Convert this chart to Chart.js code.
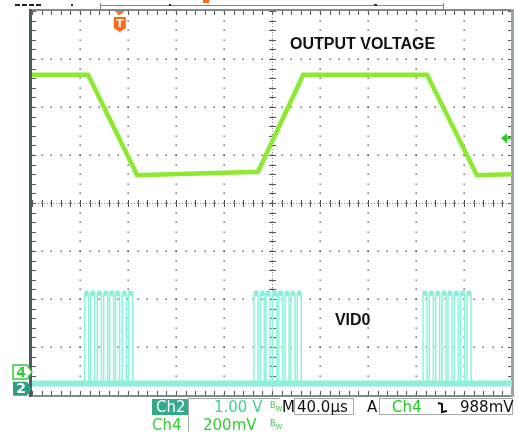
<!DOCTYPE html>
<html>
<head>
<meta charset="utf-8">
<script src="https://cdn.jsdelivr.net/npm/chart.js@4.4.1/dist/chart.umd.min.js"></script>
<style>
  body { margin: 0; background: #fff; }
  #wrap { position: relative; width: 518px; height: 436px; overflow: hidden; background: #fff; }
  #scope { position: absolute; left: 0; top: 0; }
  .t { position: absolute; font-family: "DejaVu Sans", sans-serif; font-size: 15px; line-height: 16px; white-space: pre; color: #111; }
  .box { position: absolute; border: 1px solid #a8a8a8; box-sizing: border-box; }
  .bw { position: absolute; font-family: "DejaVu Sans", sans-serif; font-size: 8px; line-height: 8px; color: #33cc44; }
  .bw sub { font-size: 7px; vertical-align: -3px; }
  .ln { position: absolute; background: #a8a8a8; }
</style>
</head>
<body>
<div id="wrap">
  <canvas id="scope" width="518" height="436"></canvas>

  <div class="t" style="left:152px;top:399px;width:36px;height:16px;background:#35a98b;color:#fff;padding-left:4px;box-sizing:border-box;">Ch2</div>
  <div class="ln" style="left:188px;top:398px;width:1px;height:34px;"></div>
  <div class="ln" style="left:188px;top:398px;width:92px;height:1px;"></div>
  <div class="t" style="left:214px;top:399px;color:#3fd391;">1.00 V</div>
  <div class="bw" style="left:270px;top:402px;">B<sub>W</sub></div>
  <div class="t" style="left:282px;top:399px;">M</div>
  <div class="box" style="left:294px;top:398px;width:60px;height:17px;"></div>
  <div class="t" style="left:297px;top:399px;">40.0µs</div>
  <div class="t" style="left:367px;top:399px;">A</div>
  <div class="box" style="left:379px;top:398px;width:134px;height:17px;"></div>
  <div class="t" style="left:392px;top:399px;color:#22cc22;">Ch4</div>
  <svg style="position:absolute;left:437px;top:401px;" width="12" height="13"><polyline points="1,2 5,3 5,11 10,10" fill="none" stroke="#111" stroke-width="2"/></svg>
  <div class="t" style="left:460px;top:399px;">988mV</div>

  <div class="t" style="left:152px;top:417px;color:#33cc33;">Ch4</div>
  <div class="t" style="left:203px;top:417px;color:#33cc33;">200mV</div>
  <div class="bw" style="left:270px;top:420px;">B<sub>W</sub></div>
</div>
<script>
// horizontal axis: 10 divisions, vertical axis: 8 divisions
const xDivs = [0, 10];
const yDivs = [0, 8];

// output voltage trace (Ch4), corners in divisions
const outTimes  = [0, 1.17, 2.19, 4.71, 5.65, 8.23, 9.27, 10];
const outLevels = [6.67, 6.67, 4.58, 4.65, 6.67, 6.67, 4.58, 4.6];

// VID0 trace (Ch2): pulse centres for the three bursts
const burst1 = [1.139, 1.264, 1.402, 1.535, 1.660, 1.785, 1.923, 2.056];
const burst2 = [4.667, 4.798, 4.917, 5.056, 5.181, 5.313, 5.438, 5.569];
const burst3 = [8.188, 8.319, 8.452, 8.583, 8.708, 8.840, 8.973, 9.104];
const vidLow = 0.24;
const vidHigh = 2.12;
const pulseHalf = 0.042;

// markers
const trigPos = 1.83;
const trigLevel = 5.35;
const ch4Ref = 0.48;
const ch2Ref = 0.13;

const outData = outTimes.map((t, i) => ({x: t, y: outLevels[i]}));

const pulses = burst1.concat(burst2, burst3);
const vidData = [{x: 0, y: vidLow}];
const vidTops = [];
pulses.forEach(c => {
    vidData.push({x: c - pulseHalf, y: vidLow}, {x: c - pulseHalf, y: vidHigh},
                 {x: c + pulseHalf, y: vidHigh}, {x: c + pulseHalf, y: vidLow});
    vidTops.push({x: c - pulseHalf, y: vidHigh}, {x: c + pulseHalf, y: vidHigh}, {x: c, y: null});
});
vidData.push({x: 10, y: vidLow});
const vidBase = [{x: 0, y: vidLow}, {x: 10, y: vidLow}];

const graticule = {
    id: 'graticule',
    beforeDatasetsDraw(chart) {
        const {ctx, chartArea: a, scales: {x, y}} = chart;
        ctx.save();
        // dotted major lines
        ctx.fillStyle = '#3a3a3a';
        for (let i = 1; i < 10; i++) {
            const px = Math.round(x.getPixelForValue(i));
            for (let j = 0; j <= 40; j++) {
                ctx.fillRect(px - 0.5, Math.round(y.getPixelForValue(j / 5)) - 0.5, 1.3, 1.3);
            }
        }
        for (let i = 1; i < 8; i++) {
            const py = Math.round(y.getPixelForValue(i));
            for (let j = 0; j <= 50; j++) {
                ctx.fillRect(Math.round(x.getPixelForValue(j / 5)) - 0.5, py - 0.5, 1.3, 1.3);
            }
        }
        // centre cross
        const cx = Math.round(x.getPixelForValue(5));
        const cy = Math.round(y.getPixelForValue(4));
        ctx.strokeStyle = '#8a8a8a';
        ctx.lineWidth = 1;
        ctx.setLineDash([1, 2]);
        ctx.beginPath();
        ctx.moveTo(a.left, cy + 0.5); ctx.lineTo(a.right, cy + 0.5);
        ctx.moveTo(cx + 0.5, a.top); ctx.lineTo(cx + 0.5, a.bottom);
        ctx.stroke();
        ctx.setLineDash([]);
        ctx.strokeStyle = '#555';
        ctx.beginPath();
        for (let j = 0; j <= 50; j++) {
            const px = Math.round(x.getPixelForValue(j / 5)) + 0.5;
            ctx.moveTo(px, cy - 3); ctx.lineTo(px, cy + 4);
            ctx.moveTo(px, a.top); ctx.lineTo(px, a.top + 4);
            ctx.moveTo(px, a.bottom); ctx.lineTo(px, a.bottom - 4);
        }
        for (let j = 0; j <= 40; j++) {
            const py = Math.round(y.getPixelForValue(j / 5)) + 0.5;
            ctx.moveTo(cx - 3, py); ctx.lineTo(cx + 4, py);
            ctx.moveTo(a.left, py); ctx.lineTo(a.left + 4, py);
            ctx.moveTo(a.right, py); ctx.lineTo(a.right - 4, py);
        }
        ctx.stroke();
        // frame
        ctx.fillStyle = '#7d8b8b';
        ctx.fillRect(a.left - 1, a.top - 2, a.right - a.left + 2, 2);
        ctx.fillRect(a.left - 1, a.bottom, a.right - a.left + 2, 2);
        ctx.fillStyle = '#9aa6a6';
        ctx.fillRect(a.right - 1, a.top - 2, 3, a.bottom - a.top + 4);
        ctx.fillStyle = '#4b5a5a';
        ctx.fillRect(a.left - 3, a.top - 2, 3, a.bottom - a.top + 4);
        ctx.restore();
    },
    afterDatasetsDraw(chart) {
        const {ctx, chartArea: a, scales: {x, y}} = chart;
        ctx.save();
        // record bar along the top
        ctx.fillStyle = '#222';
        [15, 22, 29, 36].forEach(px => ctx.fillRect(px, 4, 5, 2));
        ctx.fillStyle = '#888';
        ctx.fillRect(100, 5, 343, 1);
        ctx.fillRect(100, 3, 1, 6);
        ctx.fillRect(443, 3, 1, 6);
        ctx.fillStyle = '#333';
        ctx.fillRect(71, 4, 2, 2);
        ctx.fillRect(169, 4, 2, 2);
        ctx.fillRect(374, 4, 3, 2);
        ctx.fillStyle = '#ff6a13';
        ctx.fillRect(203, 0, 6, 3);

        // trigger position marker
        const tx = x.getPixelForValue(trigPos);
        ctx.fillStyle = '#ff6a13';
        ctx.beginPath();
        ctx.moveTo(tx - 5, a.top); ctx.lineTo(tx + 5, a.top); ctx.lineTo(tx, a.top + 4);
        ctx.closePath(); ctx.fill();
        ctx.beginPath();
        ctx.moveTo(tx - 6, a.top + 6); ctx.lineTo(tx + 6, a.top + 6);
        ctx.lineTo(tx + 6, a.top + 17); ctx.lineTo(tx, a.top + 21);
        ctx.lineTo(tx - 6, a.top + 17); ctx.closePath(); ctx.fill();
        ctx.fillStyle = '#fff';
        ctx.font = 'bold 11px "DejaVu Sans"';
        ctx.textAlign = 'center';
        ctx.textBaseline = 'middle';
        ctx.fillText('T', tx, a.top + 13);

        // trigger level arrow
        const ty = y.getPixelForValue(trigLevel);
        ctx.fillStyle = '#22cc22';
        ctx.beginPath();
        ctx.moveTo(a.right - 11, ty); ctx.lineTo(a.right - 5, ty - 5); ctx.lineTo(a.right - 5, ty + 5);
        ctx.closePath(); ctx.fill();
        ctx.fillRect(a.right - 5, ty - 1, 4, 2);

        // channel reference markers
        const y4 = y.getPixelForValue(ch4Ref);
        ctx.fillStyle = '#fff';
        ctx.strokeStyle = '#33cc33';
        ctx.lineWidth = 1.5;
        ctx.beginPath();
        ctx.moveTo(13, y4 - 7); ctx.lineTo(27, y4 - 7); ctx.lineTo(32, y4);
        ctx.lineTo(27, y4 + 7); ctx.lineTo(13, y4 + 7); ctx.closePath();
        ctx.fill(); ctx.stroke();
        ctx.fillStyle = '#33cc33';
        ctx.font = 'bold 14px "DejaVu Sans"';
        ctx.fillText('4', 21, y4 + 1);

        const y2 = y.getPixelForValue(ch2Ref);
        ctx.fillStyle = '#2e9e82';
        ctx.beginPath();
        ctx.moveTo(13, y2 - 7); ctx.lineTo(27, y2 - 7); ctx.lineTo(32, y2);
        ctx.lineTo(27, y2 + 7); ctx.lineTo(13, y2 + 7); ctx.closePath();
        ctx.fill();
        ctx.fillStyle = '#fff';
        ctx.fillText('2', 21, y2 + 1);

        // trace labels
        ctx.fillStyle = '#111';
        ctx.font = 'bold 16px "Liberation Sans"';
        ctx.textAlign = 'left';
        ctx.fillText('OUTPUT VOLTAGE', x.getPixelForValue(5.375), y.getPixelForValue(7.31));
        ctx.fillText('VID0', x.getPixelForValue(6.31), y.getPixelForValue(1.54));
        ctx.restore();
    }
};

const ctx = document.getElementById('scope').getContext('2d');
new Chart(ctx, {
    type: 'scatter',
    data: {
        datasets: [{
            label: 'VID0 base',
            data: vidBase,
            showLine: true,
            borderColor: '#8ff0da',
            borderWidth: 6,
            pointRadius: 0
        }, {
            label: 'VID0',
            data: vidData,
            showLine: true,
            borderColor: '#8ff2dc',
            borderWidth: 1.5,
            pointRadius: 0
        }, {
            label: 'VID0 tops',
            data: vidTops,
            showLine: true,
            spanGaps: false,
            borderColor: '#7eeed2',
            borderWidth: 5,
            pointRadius: 0
        }, {
            label: 'OUTPUT VOLTAGE',
            data: outData,
            showLine: true,
            borderColor: '#8de830',
            borderWidth: 4.5,
            pointRadius: 0
        }]
    },
    options: {
        responsive: false,
        animation: false,
        devicePixelRatio: 1,
        layout: {
            padding: {left: 32, top: 11, right: 6, bottom: 41}
        },
        plugins: {
            legend: {display: false},
            tooltip: {enabled: false}
        },
        scales: {
            x: {type: 'linear', min: xDivs[0], max: xDivs[1], display: false},
            y: {type: 'linear', min: yDivs[0], max: yDivs[1], display: false}
        }
    },
    plugins: [graticule]
});
</script>
</body>
</html>
